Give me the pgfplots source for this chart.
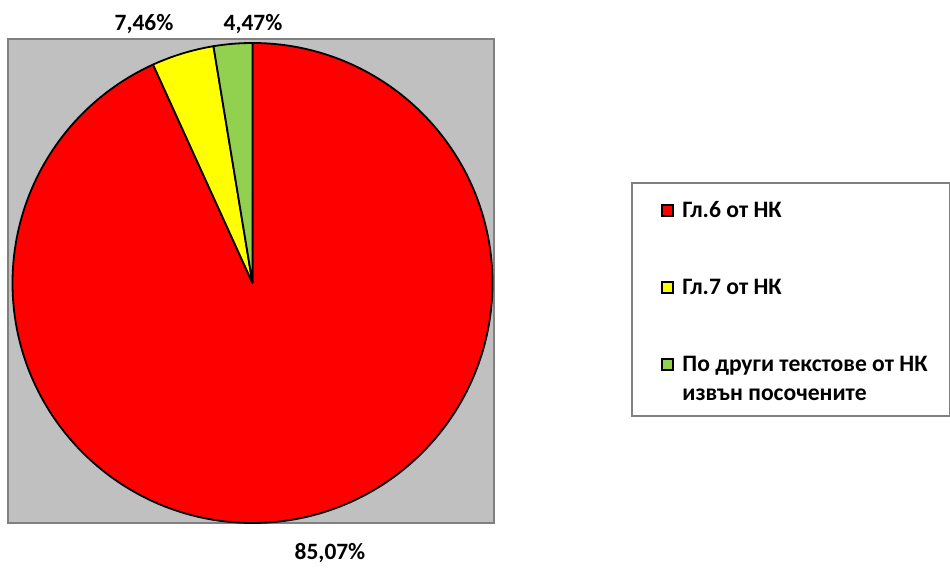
\documentclass[border=0pt]{standalone}
\usepackage{fontspec}
\setmainfont{Carlito}
\usepackage{pgfplots}
\usepackage{pgfplotstable}
\pgfplotsset{compat=1.18}
\definecolor{pieRed}{HTML}{FF0000}
\definecolor{pieYellow}{HTML}{FFFF00}
\definecolor{pieGreen}{HTML}{92D050}
\definecolor{plotGray}{HTML}{C0C0C0}
\definecolor{frameGray}{HTML}{808080}
% slice shares as drawn (clockwise from 12 o'clock)
\pgfplotstableread{
share
93.2
4.2
2.6
}\piedata
\begin{document}
\begin{tikzpicture}
\pgfplotstablegetelem{0}{share}\of\piedata \let\sA\pgfplotsretval
\pgfplotstablegetelem{1}{share}\of\piedata \let\sB\pgfplotsretval
\pgfplotstablegetelem{2}{share}\of\piedata \let\sC\pgfplotsretval
\pgfmathsetmacro\tot{\sA+\sB+\sC}
\pgfmathsetmacro\fA{\sA/\tot}
\pgfmathsetmacro\fB{(\sA+\sB)/\tot}
\pgfmathsetmacro\aA{90}
\pgfmathsetmacro\aB{90-360*\fA}
\pgfmathsetmacro\aC{90-360*\fB}
\pgfmathsetmacro\aD{90-360}
\begin{axis}[
  scale only axis, width=475pt, height=281pt,
  xmin=0, xmax=950, ymin=0, ymax=562,
  hide axis, clip=false,
]
\path (axis cs:0,0) rectangle (axis cs:950,562);
% plot area
\filldraw[fill=plotGray, draw=frameGray, line width=0.7pt] (axis cs:8,39) rectangle (axis cs:494,523);
% slices
\filldraw[fill=pieRed, draw=black, line width=0.9pt, line join=round]
  (axis cs:252.5,279) -- ++(\aA:120pt) arc[start angle=\aA, end angle=\aB, radius=120pt] -- cycle;
\filldraw[fill=pieYellow, draw=black, line width=0.9pt, line join=round]
  (axis cs:252.5,279) -- ++(\aB:120pt) arc[start angle=\aB, end angle=\aC, radius=120pt] -- cycle;
\filldraw[fill=pieGreen, draw=black, line width=0.9pt, line join=round]
  (axis cs:252.5,279) -- ++(\aC:120pt) arc[start angle=\aC, end angle=\aD, radius=120pt] -- cycle;
% data labels
\node[font=\fontsize{11.7}{14}\selectfont\bfseries] at (axis cs:330,9) {85,07\%};
\node[font=\fontsize{11.7}{14}\selectfont\bfseries] at (axis cs:144,538) {7,46\%};
\node[font=\fontsize{11.7}{14}\selectfont\bfseries] at (axis cs:253,538) {4,47\%};
% legend
\draw[draw=frameGray, line width=0.7pt] (axis cs:632,146) rectangle (axis cs:949.3,379);
\filldraw[fill=pieRed, draw=black, line width=0.7pt] (axis cs:662,346) rectangle (axis cs:673,357);
\filldraw[fill=pieYellow, draw=black, line width=0.7pt] (axis cs:662,269) rectangle (axis cs:673,280);
\filldraw[fill=pieGreen, draw=black, line width=0.7pt] (axis cs:662,192) rectangle (axis cs:673,203);
\node[font=\fontsize{11.8}{14.5}\selectfont\bfseries, anchor=west, inner sep=0pt] at (axis cs:682,352) {Гл.6 от НК};
\node[font=\fontsize{11.8}{14.5}\selectfont\bfseries, anchor=west, inner sep=0pt] at (axis cs:682,275) {Гл.7 от НК};
\node[font=\fontsize{11.8}{14.5}\selectfont\bfseries, anchor=base west, inner sep=0pt] at (axis cs:682,190) {По други текстове от НК};
\node[font=\fontsize{11.8}{14.5}\selectfont\bfseries, anchor=base west, inner sep=0pt] at (axis cs:682,161) {извън посочените};
\end{axis}
\end{tikzpicture}
\end{document}
